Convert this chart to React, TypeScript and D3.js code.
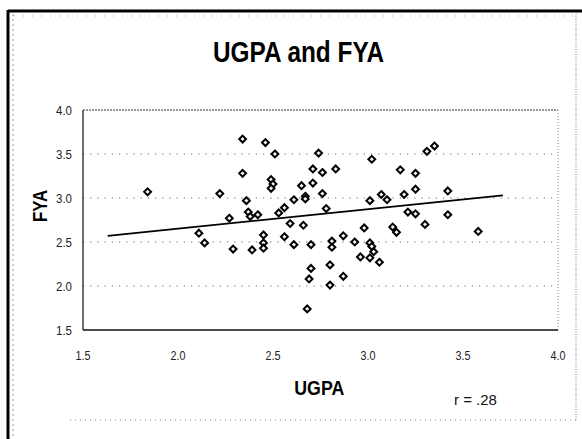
import React, { useEffect, useRef } from "react";
import * as d3 from "d3";

// UGPA (x) and FYA (y) for each student
const ugpa = [
  1.84, 2.11, 2.14, 2.22, 2.27, 2.29, 2.34, 2.34, 2.36, 2.37,
  2.38, 2.39, 2.42, 2.45, 2.45, 2.45, 2.46, 2.49, 2.5, 2.49,
  2.51, 2.53, 2.56, 2.56, 2.59, 2.61, 2.61, 2.65, 2.66, 2.67,
  2.67, 2.68, 2.69, 2.7, 2.7, 2.71, 2.71, 2.74, 2.76, 2.76,
  2.78, 2.8, 2.8, 2.81, 2.81, 2.83, 2.87, 2.87, 2.93, 2.96,
  2.98, 3.01, 3.02, 3.01, 3.01, 3.02, 3.03, 3.06, 3.07, 3.1,
  3.13, 3.15, 3.17, 3.19, 3.21, 3.25, 3.25, 3.25, 3.31, 3.3,
  3.35, 3.42, 3.42, 3.58
];
const fya = [
  3.07, 2.6, 2.49, 3.05, 2.77, 2.42, 3.67, 3.28, 2.97, 2.84,
  2.79, 2.41, 2.81, 2.58, 2.49, 2.43, 3.63, 3.21, 3.16, 3.11,
  3.5, 2.83, 2.89, 2.56, 2.71, 2.98, 2.47, 3.14, 2.69, 3.02,
  2.99, 1.74, 2.08, 2.2, 2.47, 3.33, 3.17, 3.51, 3.29, 3.05,
  2.88, 2.24, 2.01, 2.51, 2.44, 3.33, 2.57, 2.11, 2.5, 2.33,
  2.66, 2.97, 3.44, 2.32, 2.49, 2.45, 2.39, 2.27, 3.04, 2.98,
  2.67, 2.61, 3.32, 3.04, 2.84, 2.82, 3.28, 3.1, 3.53, 2.7,
  3.59, 3.08, 2.81, 2.62
];

// fitted line as drawn in the chart
const fitFrom = [1.63, 2.57];
const fitTo = [3.71, 3.03];

const xTicks = [1.5, 2.0, 2.5, 3.0, 3.5, 4.0];
const yTicks = [1.5, 2.0, 2.5, 3.0, 3.5, 4.0];
const gridValues = [2.0, 2.5, 3.0, 3.5];

const W = 582;
const H = 439;

export default function App() {
  const ref = useRef<SVGSVGElement>(null);

  useEffect(() => {
    const svg = d3.select(ref.current);
    svg.selectAll("*").remove();

    const font = "'Liberation Sans', Arial, sans-serif";

    const x = d3.scaleLinear().domain([1.5, 4]).range([83, 558]);
    const y = d3.scaleLinear().domain([1.5, 4]).range([330, 110]);

    svg.append("rect").attr("width", W).attr("height", H).attr("fill", "white");

    // outer frame (scanned look)
    svg.append("line")
      .attr("x1", 8).attr("x2", W).attr("y1", 11).attr("y2", 11)
      .attr("stroke", "#000").attr("stroke-width", 3);
    svg.append("line")
      .attr("x1", 8).attr("x2", 8).attr("y1", 10).attr("y2", H)
      .attr("stroke", "#000").attr("stroke-width", 3);
    svg.append("line")
      .attr("x1", 13).attr("x2", 13).attr("y1", 14).attr("y2", H)
      .attr("stroke", "#999").attr("stroke-width", 1)
      .attr("stroke-dasharray", "2,3");
    svg.append("line")
      .attr("x1", 14).attr("x2", 576).attr("y1", 16).attr("y2", 16)
      .attr("stroke", "#aaa").attr("stroke-width", 1)
      .attr("stroke-dasharray", "1,8");
    svg.append("line")
      .attr("x1", 576).attr("x2", 576).attr("y1", 14).attr("y2", 421)
      .attr("stroke", "#777").attr("stroke-width", 1)
      .attr("stroke-dasharray", "1,1.5");
    svg.append("line")
      .attr("x1", 70).attr("x2", 576).attr("y1", 420).attr("y2", 420)
      .attr("stroke", "#888").attr("stroke-width", 1)
      .attr("stroke-dasharray", "1,4");

    // title
    svg.append("text")
      .attr("x", 298.5).attr("y", 62)
      .attr("text-anchor", "middle")
      .attr("font-family", font).attr("font-weight", "bold")
      .attr("font-size", 29)
      .attr("textLength", 171).attr("lengthAdjust", "spacingAndGlyphs")
      .text("UGPA and FYA");

    // gridlines
    svg.append("g")
      .selectAll("line")
      .data(gridValues)
      .enter()
      .append("line")
      .attr("x1", x(1.5)).attr("x2", x(4))
      .attr("y1", d => y(d)).attr("y2", d => y(d))
      .attr("stroke", "#666").attr("stroke-width", 1)
      .attr("stroke-dasharray", "1.2,6");

    // plot border: dotted top/right, solid left/bottom
    svg.append("line")
      .attr("x1", x(1.5)).attr("x2", x(4)).attr("y1", y(4)).attr("y2", y(4))
      .attr("stroke", "#333").attr("stroke-width", 1)
      .attr("stroke-dasharray", "2,1");
    svg.append("line")
      .attr("x1", x(4)).attr("x2", x(4)).attr("y1", y(4)).attr("y2", y(1.5))
      .attr("stroke", "#888").attr("stroke-width", 1)
      .attr("stroke-dasharray", "1,2");
    svg.append("line")
      .attr("x1", x(1.5)).attr("x2", x(1.5)).attr("y1", y(4)).attr("y2", y(1.5))
      .attr("stroke", "#222").attr("stroke-width", 1.3);
    svg.append("line")
      .attr("x1", x(1.5)).attr("x2", x(4)).attr("y1", y(1.5)).attr("y2", y(1.5))
      .attr("stroke", "#111").attr("stroke-width", 1.5);

    // tick labels
    svg.append("g")
      .selectAll("text")
      .data(yTicks)
      .enter()
      .append("text")
      .attr("x", 72).attr("y", d => y(d) + 4.5)
      .attr("text-anchor", "end")
      .attr("font-family", font).attr("font-size", 12)
      .attr("textLength", 16).attr("lengthAdjust", "spacingAndGlyphs")
      .attr("fill", "#222")
      .text(d => d.toFixed(1));

    svg.append("g")
      .selectAll("text")
      .data(xTicks)
      .enter()
      .append("text")
      .attr("x", d => x(d)).attr("y", 359.5)
      .attr("text-anchor", "middle")
      .attr("font-family", font).attr("font-size", 12)
      .attr("textLength", 15).attr("lengthAdjust", "spacingAndGlyphs")
      .attr("fill", "#222")
      .text(d => d.toFixed(1));

    // axis titles
    svg.append("text")
      .attr("transform", "translate(46.5,206) rotate(-90)")
      .attr("text-anchor", "middle")
      .attr("font-family", font).attr("font-weight", "bold")
      .attr("font-size", 21)
      .attr("textLength", 32).attr("lengthAdjust", "spacingAndGlyphs")
      .text("FYA");

    svg.append("text")
      .attr("x", 319.3).attr("y", 395)
      .attr("text-anchor", "middle")
      .attr("font-family", font).attr("font-weight", "bold")
      .attr("font-size", 21)
      .attr("textLength", 50).attr("lengthAdjust", "spacingAndGlyphs")
      .text("UGPA");

    svg.append("text")
      .attr("x", 454).attr("y", 405)
      .attr("font-family", font).attr("font-size", 15)
      .attr("fill", "#111")
      .text("r = .28");

    // fitted line
    svg.append("line")
      .attr("x1", x(fitFrom[0])).attr("y1", y(fitFrom[1]))
      .attr("x2", x(fitTo[0])).attr("y2", y(fitTo[1]))
      .attr("stroke", "#000").attr("stroke-width", 1.8);

    // points
    const points = ugpa.map((u, i) => ({ u: u, f: fya[i] }));
    const symbol = d3.symbol().type(d3.symbolDiamond2 || d3.symbolDiamond).size(30);

    svg.append("g")
      .selectAll("path")
      .data(points)
      .enter()
      .append("path")
      .attr("d", symbol())
      .attr("transform", d => "translate(" + x(d.u) + "," + y(d.f) + ")")
      .attr("fill", "#f4f4f4")
      .attr("stroke", "#000")
      .attr("stroke-width", 2);
  }, []);

  return (
    <svg
      ref={ref}
      width={W}
      height={H}
      style={{ position: "absolute", left: 0, top: 0 }}
    />
  );
}
